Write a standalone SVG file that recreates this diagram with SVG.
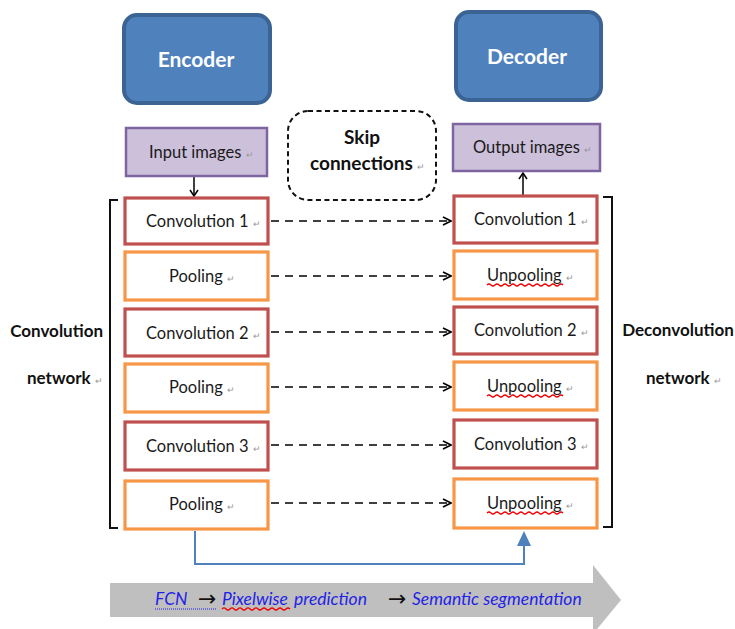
<svg xmlns="http://www.w3.org/2000/svg" width="735" height="629" viewBox="0 0 735 629">
<defs>
<style>
.t{font-family:Lato,"Open Sans","Liberation Sans",sans-serif;font-size:16.5px;fill:#1a1a1a}
.b{font-family:Lato,"Open Sans","Liberation Sans",sans-serif;font-weight:bold;fill:#111}
.h{font-family:Lato,"Open Sans","Liberation Sans",sans-serif;font-weight:bold;font-size:21px;fill:#fff;text-anchor:middle}
.rm{font-size:9px;fill:#999;font-weight:normal}
.enc{fill:#4F81BD;stroke:#3B6495;stroke-width:4}
.img{fill:#CCC0DA;stroke:#7F64A2;stroke-width:2.5}
.conv{fill:#fff;stroke:#C0504D;stroke-width:3.2}
.pool{fill:#fff;stroke:#F79646;stroke-width:3.2}
.dash{stroke:#000;stroke-width:1.6;stroke-dasharray:8,6;fill:none;marker-end:url(#oa)}
.br{fill:none;stroke:#111;stroke-width:2}
.sq{fill:none;stroke:#E00;stroke-width:1.2}
.bl{font-family:Lato,"Open Sans","Liberation Sans",sans-serif;font-style:italic;font-size:17.5px;fill:#1F1FE6}
.ar{font-family:"DejaVu Sans",sans-serif;font-size:22px;fill:#111}
</style>
<marker id="oa" markerWidth="10" markerHeight="10" refX="9" refY="5" orient="auto" markerUnits="userSpaceOnUse">
<path d="M1,1 L9,5 L1,9" fill="none" stroke="#000" stroke-width="1.6"/>
</marker>
<marker id="ka" markerWidth="10" markerHeight="10" refX="5" refY="9" orient="0" markerUnits="userSpaceOnUse">
<path d="M1,3 L5,9 L9,3" fill="none" stroke="#000" stroke-width="1.5"/>
</marker>
<marker id="ku" markerWidth="10" markerHeight="10" refX="5" refY="1" orient="0" markerUnits="userSpaceOnUse">
<path d="M1,7 L5,1 L9,7" fill="none" stroke="#000" stroke-width="1.5"/>
</marker>
</defs>
<rect width="735" height="629" fill="#fff"/>

<!-- bottom gray arrow -->
<g id="flow">
<path d="M110,583 L593,583 L593,565 L621,600 L593,634 L593,617 L110,617 Z" fill="#BFBFBF"/>
<text class="bl" x="155" y="605">FCN</text>
<text class="ar" x="198" y="606">→</text>
<text class="bl" x="222" y="605">Pixelwise</text>
<text class="bl" x="294" y="605">prediction</text>
<text class="ar" x="388" y="606">→</text>
<text class="bl" x="412" y="605">Semantic segmentation</text>
<line x1="155" y1="609" x2="216" y2="609" stroke="#1F1FE6" stroke-width="1" stroke-dasharray="1,1"/>
<path class="sq" d="M222,609 q2,-2 4,0 t4,0 t4,0 t4,0 t4,0 t4,0 t4,0 t4,0 t4,0 t4,0 t4,0 t4,0 t4,0 t4,0 t4,0 t4,0 t4,0"/>
</g>

<g id="connectors">
<line x1="194" y1="176" x2="194" y2="196" stroke="#000" stroke-width="1.5" marker-end="url(#ka)"/>
<line x1="523" y1="195" x2="523" y2="173" stroke="#000" stroke-width="1.5" marker-end="url(#ku)"/>
<line class="dash" x1="271" y1="221" x2="451" y2="221"/>
<line class="dash" x1="271" y1="276" x2="451" y2="276"/>
<line class="dash" x1="271" y1="332" x2="451" y2="332"/>
<line class="dash" x1="271" y1="387" x2="451" y2="387"/>
<line class="dash" x1="271" y1="445" x2="451" y2="445"/>
<line class="dash" x1="271" y1="503" x2="451" y2="503"/>
<polyline points="195,531 195,564 524,564 524,546" fill="none" stroke="#4F81BD" stroke-width="2"/>
<path d="M517,546 L524,531 L531,546 Z" fill="#4F81BD"/>
</g>

<g id="encoder">
<rect class="enc" x="124" y="15" width="146" height="88" rx="13"/>
<text class="h" x="196" y="67">Encoder</text>
</g>
<g id="decoder">
<rect class="enc" x="456" y="12" width="145" height="88" rx="13"/>
<text class="h" x="527" y="64">Decoder</text>
</g>

<g id="input">
<rect class="img" x="126" y="128" width="141" height="48"/>
<text class="t" x="149" y="158">Input images <tspan class="rm">↵</tspan></text>
</g>
<g id="output">
<rect class="img" x="453" y="124" width="147" height="47"/>
<text class="t" x="473" y="153">Output images <tspan class="rm">↵</tspan></text>
</g>
<g id="skip">
<rect x="288" y="111" width="148" height="89" rx="20" fill="#fff" stroke="#111" stroke-width="2" stroke-dasharray="5,3.5"/>
<text class="b" x="362" y="144" font-size="19" text-anchor="middle">Skip</text>
<text class="b" x="310" y="170" font-size="19">connections <tspan class="rm">↵</tspan></text>
</g>

<g id="enc-conv1"><rect class="conv" x="125" y="198" width="143" height="46"/><text class="t" x="146" y="227">Convolution 1 <tspan class="rm">↵</tspan></text></g>
<g id="enc-pool1"><rect class="pool" x="125" y="252" width="143" height="48"/><text class="t" x="169" y="282">Pooling <tspan class="rm">↵</tspan></text></g>
<g id="enc-conv2"><rect class="conv" x="125" y="309" width="143" height="47"/><text class="t" x="146" y="339">Convolution 2 <tspan class="rm">↵</tspan></text></g>
<g id="enc-pool2"><rect class="pool" x="125" y="364" width="143" height="48"/><text class="t" x="169" y="393">Pooling <tspan class="rm">↵</tspan></text></g>
<g id="enc-conv3"><rect class="conv" x="125" y="422" width="143" height="48"/><text class="t" x="146" y="452">Convolution 3 <tspan class="rm">↵</tspan></text></g>
<g id="enc-pool3"><rect class="pool" x="125" y="481" width="143" height="48"/><text class="t" x="169" y="510">Pooling <tspan class="rm">↵</tspan></text></g>

<g id="dec-conv1"><rect class="conv" x="454" y="196" width="143" height="47"/><text class="t" x="474" y="225">Convolution 1 <tspan class="rm">↵</tspan></text></g>
<g id="dec-unpool1"><rect class="pool" x="454" y="251" width="143" height="48"/><text class="t" x="487" y="281">Unpooling <tspan class="rm">↵</tspan></text><path class="sq" d="M487,285 q2,-2 4,0 t4,0 t4,0 t4,0 t4,0 t4,0 t4,0 t4,0 t4,0 t4,0 t4,0 t4,0 t4,0 t4,0 t4,0 t4,0 t4,0 t4,0 t4,0"/></g>
<g id="dec-conv2"><rect class="conv" x="454" y="307" width="143" height="47"/><text class="t" x="474" y="336">Convolution 2 <tspan class="rm">↵</tspan></text></g>
<g id="dec-unpool2"><rect class="pool" x="454" y="362" width="143" height="48"/><text class="t" x="487" y="392">Unpooling <tspan class="rm">↵</tspan></text><path class="sq" d="M487,396 q2,-2 4,0 t4,0 t4,0 t4,0 t4,0 t4,0 t4,0 t4,0 t4,0 t4,0 t4,0 t4,0 t4,0 t4,0 t4,0 t4,0 t4,0 t4,0 t4,0"/></g>
<g id="dec-conv3"><rect class="conv" x="454" y="420" width="143" height="48"/><text class="t" x="474" y="450">Convolution 3 <tspan class="rm">↵</tspan></text></g>
<g id="dec-unpool3"><rect class="pool" x="454" y="479" width="143" height="49"/><text class="t" x="487" y="509">Unpooling <tspan class="rm">↵</tspan></text><path class="sq" d="M487,513 q2,-2 4,0 t4,0 t4,0 t4,0 t4,0 t4,0 t4,0 t4,0 t4,0 t4,0 t4,0 t4,0 t4,0 t4,0 t4,0 t4,0 t4,0 t4,0 t4,0"/></g>

<g id="conv-network">
<polyline class="br" points="118,200 110,200 110,528 118,528"/>
<text class="b" x="103" y="337" font-size="17" text-anchor="end">Convolution</text>
<text class="b" x="27" y="384" font-size="17">network <tspan class="rm">↵</tspan></text>
</g>
<g id="deconv-network">
<polyline class="br" points="603,197 612,197 612,527 603,527"/>
<text class="b" x="678" y="336" font-size="17" text-anchor="middle">Deconvolution</text>
<text class="b" x="646" y="384" font-size="17">network <tspan class="rm">↵</tspan></text>
</g>
</svg>
